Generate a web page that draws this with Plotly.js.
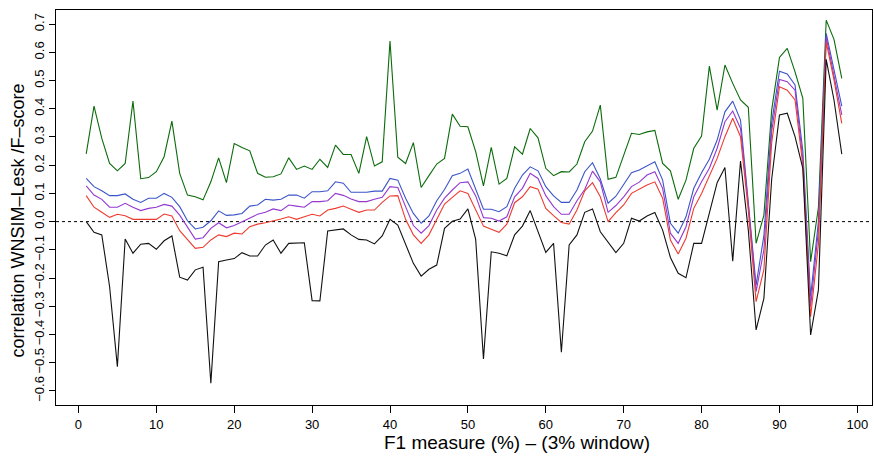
<!DOCTYPE html>
<html>
<head>
<meta charset="utf-8">
<script src="https://cdn.plot.ly/plotly-3.0.1.min.js"></script>
<style>html,body{margin:0;padding:0;background:#fff}#chart{width:874px;height:456px}</style>
</head>
<body>
<div id="chart"></div>
<script>
const xWindow = Array.from({length: 98}, (_, k) => k + 1);

const greenSeries = [0.24,0.409,0.295,0.206,0.18,0.206,0.427,0.152,0.156,0.177,
0.23,0.356,0.171,0.094,0.088,0.077,0.141,0.226,0.138,0.277,
0.263,0.251,0.171,0.157,0.159,0.169,0.226,0.185,0.197,0.185,
0.221,0.192,0.271,0.238,0.238,0.171,0.301,0.197,0.212,0.640,
0.228,0.206,0.28,0.121,0.163,0.204,0.224,0.381,0.338,0.336,
0.248,0.127,0.263,0.133,0.153,0.265,0.239,0.330,0.297,0.189,
0.163,0.177,0.176,0.204,0.283,0.321,0.413,0.150,0.157,0.236,
0.313,0.309,0.318,0.323,0.206,0.180,0.079,0.147,0.260,0.303,
0.551,0.395,0.555,0.490,0.431,0.405,-0.077,0.023,0.395,0.582,
0.614,0.531,0.437,-0.142,0.05,0.714,0.646,0.508];

const blueSeries = [0.153,0.124,0.109,0.092,0.092,0.098,0.079,0.068,0.083,0.083,
0.100,0.086,0.053,0.003,-0.026,-0.020,0.003,0.038,0.022,0.024,
0.029,0.055,0.059,0.079,0.076,0.079,0.094,0.094,0.083,0.106,
0.106,0.109,0.141,0.136,0.104,0.104,0.104,0.108,0.108,0.153,
0.147,0.083,0.029,-0.006,0.020,0.074,0.114,0.163,0.171,0.186,
0.112,0.044,0.044,0.035,0.053,0.118,0.165,0.194,0.180,0.124,
0.091,0.068,0.068,0.112,0.177,0.209,0.151,0.065,0.090,0.13,
0.173,0.183,0.197,0.212,0.147,-0.006,-0.041,0.017,0.118,0.173,
0.221,0.289,0.389,0.427,0.360,0.08,-0.225,-0.05,0.35,0.533,
0.523,0.484,0.25,-0.266,0.0,0.667,0.537,0.409];

const purpleSeries = [0.127,0.094,0.079,0.051,0.051,0.065,0.051,0.039,0.047,0.051,
0.061,0.055,0.023,-0.018,-0.062,-0.057,-0.024,-0.004,-0.022,-0.014,
0.0,0.015,0.026,0.033,0.045,0.039,0.059,0.055,0.051,0.071,
0.071,0.074,0.100,0.093,0.080,0.071,0.071,0.079,0.086,0.124,
0.121,0.053,-0.014,-0.041,-0.014,0.041,0.083,0.112,0.138,0.141,
0.091,0.014,0.012,0.002,0.017,0.088,0.118,0.171,0.153,0.092,
0.053,0.026,0.026,0.074,0.114,0.179,0.141,0.033,0.057,0.088,
0.124,0.140,0.165,0.177,0.118,-0.041,-0.077,-0.018,0.088,0.141,
0.189,0.260,0.354,0.392,0.330,0.06,-0.248,-0.1,0.32,0.504,
0.496,0.466,0.22,-0.301,-0.03,0.655,0.519,0.378];

const redSeries = [0.092,0.051,0.033,0.015,0.026,0.021,0.008,0.008,0.008,0.008,
0.027,0.020,-0.032,-0.065,-0.095,-0.091,-0.065,-0.047,-0.053,-0.041,
-0.044,-0.018,-0.009,-0.004,0.002,0.009,0.017,0.008,0.017,0.026,
0.020,0.041,0.047,0.055,0.044,0.033,0.041,0.041,0.068,0.091,
0.092,0.008,-0.047,-0.077,-0.047,0.008,0.062,0.086,0.109,0.100,
0.044,-0.016,-0.027,-0.038,-0.009,0.067,0.088,0.124,0.115,0.047,
0.021,-0.003,-0.009,0.041,0.109,0.138,0.088,0.0,0.032,0.059,
0.100,0.114,0.130,0.141,0.083,-0.065,-0.115,-0.059,0.047,0.1,
0.159,0.224,0.301,0.366,0.301,0.04,-0.284,-0.17,0.28,0.478,
0.466,0.431,0.2,-0.337,-0.08,0.637,0.502,0.348];

const blackSeries = [0.0,-0.038,-0.047,-0.23,-0.514,-0.062,-0.112,-0.080,-0.077,-0.098,
-0.068,-0.051,-0.197,-0.207,-0.171,-0.162,-0.573,-0.142,-0.136,-0.131,
-0.110,-0.122,-0.122,-0.083,-0.065,-0.112,-0.077,-0.077,-0.075,-0.280,
-0.281,-0.033,-0.030,-0.026,-0.047,-0.063,-0.065,-0.079,-0.051,0.008,
-0.012,-0.077,-0.148,-0.193,-0.169,-0.154,-0.024,0.001,0.009,0.045,
-0.063,-0.487,-0.107,-0.112,-0.121,-0.047,-0.016,0.039,-0.036,-0.109,
-0.077,-0.463,-0.083,-0.047,0.033,0.045,-0.036,-0.073,-0.110,-0.077,
0.012,0.002,0.020,0.032,-0.030,-0.127,-0.183,-0.199,-0.077,-0.077,
0.032,0.138,0.192,-0.140,0.215,-0.03,-0.384,-0.272,0.15,0.378,
0.384,0.301,0.189,-0.402,-0.242,0.575,0.431,0.239];

const xTicks = [0,10,20,30,40,50,60,70,80,90,100];
const yTicks = [-0.6,-0.5,-0.4,-0.3,-0.2,-0.1,0.0,0.1,0.2,0.3,0.4,0.5,0.6,0.7];
const yTickText = yTicks.map(v => (v < 0 ? '\u2212' : '') + Math.abs(v).toFixed(1));
const xTitle = 'F1 measure (%) \u2013 (3% window)';
const yTitle = 'correlation WNSIM\u2013Lesk /F\u2013score';

const seriesList = [
  {y: greenSeries, color: '#0b6b0b'},
  {y: blueSeries, color: '#3a55c8'},
  {y: purpleSeries, color: '#9438d0'},
  {y: redSeries, color: '#ee3a2e'},
  {y: blackSeries, color: '#111111'}
];

const traces = seriesList.map(s => ({
  x: xWindow, y: s.y, type: 'scatter', mode: 'lines',
  line: {color: s.color, width: 1.1}, hoverinfo: 'skip', showlegend: false
}));

const fontFam = 'Liberation Sans Narrow, Liberation Sans, Arial, sans-serif';
const titleFam = 'Liberation Sans, Arial, sans-serif';

const layout = {
  width: 874, height: 456,
  margin: {l: 56, r: 2, t: 10, b: 51},
  paper_bgcolor: '#fff', plot_bgcolor: '#fff',
  showlegend: false,
  font: {family: fontFam, color: '#000', size: 13},
  xaxis: {
    range: [-2.88, 101.88], tickvals: xTicks, ticktext: xTicks.map(String),
    ticks: 'outside', ticklen: 7, tickwidth: 1, tickcolor: '#000',
    showline: true, linecolor: '#000', linewidth: 1, mirror: true,
    showgrid: false, zeroline: false,
    tickfont: {family: fontFam, size: 13}
  },
  yaxis: {
    range: [-0.65, 0.75], tickvals: yTicks, ticktext: yTickText, tickangle: -90,
    ticks: 'outside', ticklen: 6, tickwidth: 1, tickcolor: '#000',
    showline: true, linecolor: '#000', linewidth: 1, mirror: true,
    showgrid: false, zeroline: false,
    tickfont: {family: fontFam, size: 13}
  },
  annotations: [
    {text: xTitle, xref: 'paper', yref: 'paper', x: 0.565, y: -0.095,
     xanchor: 'center', yanchor: 'middle', showarrow: false,
     font: {family: titleFam, size: 19, color: '#000'}},
    {text: yTitle, xref: 'paper', yref: 'paper', x: -0.046, y: 0.468,
     xanchor: 'center', yanchor: 'middle', textangle: -90, showarrow: false,
     font: {family: titleFam, size: 18, color: '#000'}}
  ],
  shapes: [{
    type: 'line', xref: 'paper', yref: 'y', x0: 0, x1: 1, y0: 0, y1: 0,
    line: {color: '#000', width: 1, dash: '3px,3px'}, layer: 'below'
  }]
};

Plotly.newPlot('chart', traces, layout, {staticPlot: true, displayModeBar: false});
</script>
</body>
</html>
